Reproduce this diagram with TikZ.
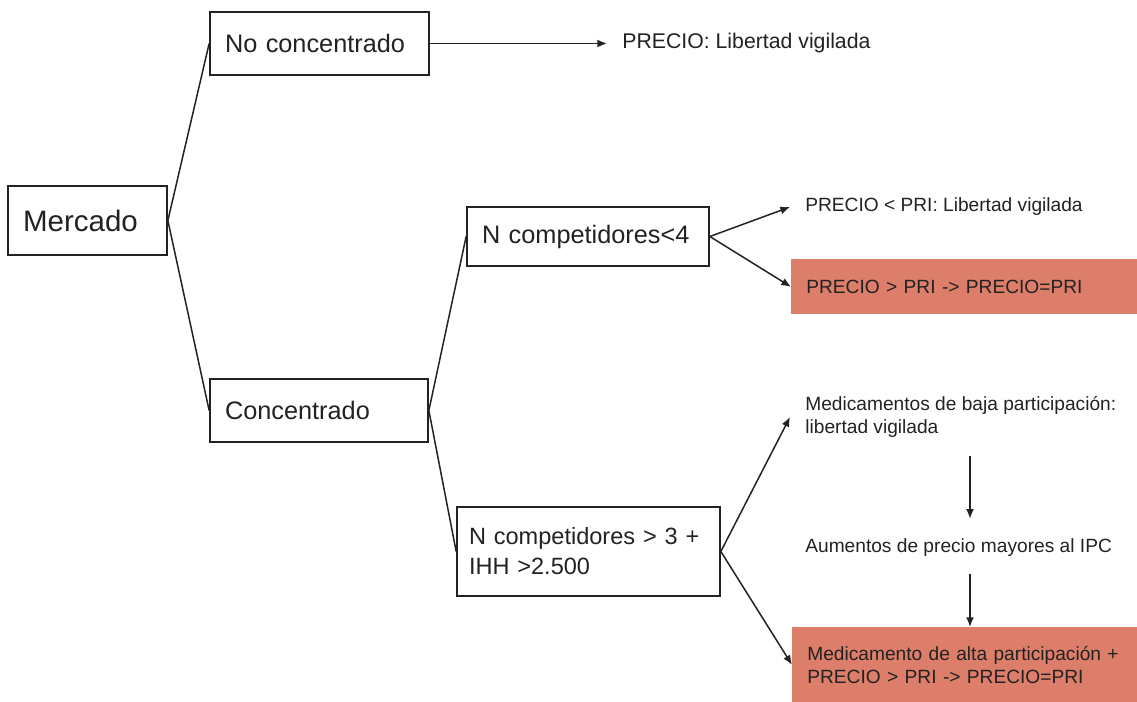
\documentclass[tikz,border=0pt]{standalone}
\usepackage{fontspec}
\setmainfont{Liberation Sans}
\usetikzlibrary{arrows.meta}
\definecolor{rojoclaro}{HTML}{DD7E6B}
\definecolor{tinta}{HTML}{222222}

\begin{document}
\begin{tikzpicture}[x=0.02cm, y=-0.02cm,
        caja/.style={draw=tinta, line width=1pt, align=left, inner xsep=0.3cm, text=tinta},
        nota/.style={anchor=west, align=left, inner xsep=0.3cm, inner ysep=0.1cm, text=tinta, font=\fontsize{10.9}{13.1}\selectfont},
        marcado/.style={nota, anchor=north west, fill=rojoclaro, text width=6.32cm},
        rama/.style={draw=tinta, line width=0.85pt},
        flecha/.style={rama, -{Latex[length=5.5pt,width=4.5pt]}}]
        % Marco
        \useasboundingbox (0,0) rectangle (1137,702);
        % Raíz
        \node[caja, text width=2.58cm, minimum height=1.38cm, font=\fontsize{16.8}{20}\selectfont] (mercado) at (87.5,220.5) {Mercado};
        % Primer nivel
        \node[caja, text width=3.78cm, minimum height=1.26cm, font=\fontsize{14.4}{17}\selectfont] (nocon) at (319.5,43.5) {No concentrado};
        \node[caja, text width=3.76cm, minimum height=1.26cm, font=\fontsize{14.4}{17}\selectfont] (con) at (319,410.5) {Concentrado};
        % Segundo nivel
        \node[caja, text width=4.24cm, minimum height=1.18cm, font=\fontsize{14.4}{17}\selectfont] (pocos) at (588,236.5) {N competidores<4};
        \node[caja, inner xsep=0.24cm, text width=4.78cm, minimum height=1.78cm, font=\fontsize{13.4}{17}\selectfont] (muchos) at (588.5,551.5) {N competidores > 3 +\\IHH >2.500};
        % Resultados
        \node[nota, font=\fontsize{12.1}{14.5}\selectfont] (libre) at (607,43.5) {PRECIO: Libertad vigilada};
        \node[nota] (vigilada) at (790,207) {PRECIO < PRI: Libertad vigilada};
        \node[marcado, minimum height=1.1cm] (tope) at (791,259) {PRECIO > PRI -> PRECIO=PRI};
        \node[nota] (baja) at (790,417) {Medicamentos de baja participación:\\libertad vigilada};
        \node[nota] (aumento) at (790,548) {Aumentos de precio mayores al IPC};
        \node[marcado, minimum height=1.5cm] (alta) at (792,627) {Medicamento de alta participación +\\PRECIO > PRI -> PRECIO=PRI};
        % Ramas del árbol
        \draw[rama] (mercado.east) -- (nocon.west);
        \draw[rama] (mercado.east) -- (con.west);
        \draw[rama] (con.east) -- (pocos.west);
        \draw[rama] (con.east) -- (muchos.west);
        % Flechas hacia los resultados
        \draw[flecha] (nocon.east) -- (libre.west);
        \draw[flecha] (pocos.east) -- (vigilada.west);
        \draw[flecha] (pocos.east) -- (tope.west);
        \draw[flecha] (muchos.east) -- (baja.west);
        \draw[flecha] (muchos.east) -- (alta.west);
        % Secuencia vertical
        \coordinate (eje) at (970,0);
        \draw[flecha, shorten <=0.26cm, shorten >=0.3cm] (baja.south -| eje) -- (aumento.north -| eje);
        \draw[flecha, shorten <=0.24cm] (aumento.south -| eje) -- (alta.north -| eje);
\end{tikzpicture}
\end{document}
